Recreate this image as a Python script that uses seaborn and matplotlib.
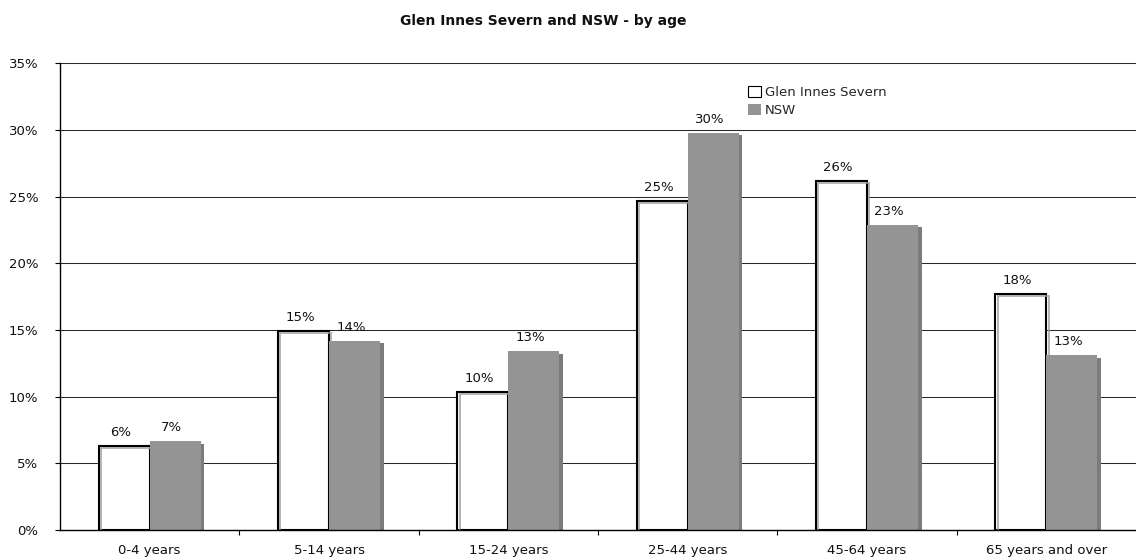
import matplotlib
matplotlib.use("Agg")
import matplotlib.pyplot as plt
import matplotlib.patches as mpatches
import matplotlib.patheffects as pe
from matplotlib.ticker import FixedLocator, FuncFormatter
import pandas as pd
import seaborn as sns

# Age groups and population share (%) for each area
age_groups = ["0-4 years", "5-14 years", "15-24 years", "25-44 years",
              "45-64 years", "65 years and over"]
glen_innes = [6.33, 14.9, 10.34, 24.66, 26.2, 17.7]
nsw = [6.68, 14.2, 13.42, 29.8, 22.9, 13.1]
series_names = ["Glen Innes Severn", "NSW"]

df = pd.DataFrame({
    "age": age_groups * 2,
    "pct": glen_innes + nsw,
    "series": [series_names[0]] * len(age_groups) + [series_names[1]] * len(age_groups),
})

sns.set_theme(style="white")
plt.rcParams["font.family"] = ["DejaVu Sans"]

W, H = 1136, 560
fig = plt.figure(figsize=(W / 100, H / 100), dpi=100)
ax = fig.add_axes([60 / W, (H - 530) / H, 1 - 60 / W, (530 - 63.3) / H])

NSW_GREY = "#949494"
sns.barplot(data=df, x="age", y="pct", hue="series", order=age_groups,
            hue_order=series_names,
            palette={series_names[0]: "white", series_names[1]: NSW_GREY},
            width=0.57, gap=0, saturation=1, legend=False, ax=ax)

gis_bars, nsw_bars = ax.containers[0], ax.containers[1]
for bar in gis_bars:
    bar.set_edgecolor("black")
    bar.set_linewidth(1.5)
    bar.set_zorder(3)
    # white bar with a thin grey outline offset down-right (3-D look)
    bar.set_path_effects([pe.Normal(),
                          pe.SimpleLineShadow(offset=(1.7, -1.5),
                                              shadow_color="#a0a0a0",
                                              alpha=1, linewidth=1.1)])
for bar in nsw_bars:
    bar.set_edgecolor("none")
    bar.set_linewidth(0)
    bar.set_zorder(3)
    bar.set_path_effects([pe.SimplePatchShadow(offset=(2.5, -2.0),
                                               shadow_rgbFace="#7c7c7c", alpha=1),
                          pe.Normal()])

# Value labels above each bar
for container, vals in ((gis_bars, glen_innes), (nsw_bars, nsw)):
    for bar, v in zip(container, vals):
        ax.annotate(f"{v:.0f}%", (bar.get_x() + bar.get_width() / 2, bar.get_height()),
                    xytext=(-2.5, 5), textcoords="offset points",
                    ha="center", va="bottom", fontsize=9.5, color="#111111",
                    zorder=5)

# Axes, ticks and grid
ax.set_ylim(0, 35)
ax.set_xlim(-0.5, len(age_groups) - 0.5)
ax.yaxis.set_major_locator(FixedLocator(range(0, 36, 5)))
ax.yaxis.set_major_formatter(FuncFormatter(lambda v, _: f"{v:.0f}%"))
ax.yaxis.grid(True, color="#2a2a2a", linewidth=0.75)
ax.set_axisbelow(True)
ax.set_xlabel("")
ax.set_ylabel("")

ax.xaxis.set_minor_locator(FixedLocator([i + 0.5 for i in range(len(age_groups) - 1)]))
ax.tick_params(axis="x", which="major", length=0, pad=10, labelsize=9.5,
               labelcolor="#111111")
ax.tick_params(axis="x", which="minor", bottom=True, length=3.5, width=0.8,
               direction="out", color="black")
ax.tick_params(axis="y", which="major", left=True, length=3.6, width=0.8,
               direction="out", color="black", pad=12, labelsize=9.5,
               labelcolor="#111111")

for side in ("top", "right"):
    ax.spines[side].set_visible(False)
for side in ("left", "bottom"):
    ax.spines[side].set_visible(True)
    ax.spines[side].set_color("black")
    ax.spines[side].set_linewidth(1.0)
ax.spines["bottom"].set_zorder(4)

# Legend
handles = [mpatches.Patch(facecolor="white", edgecolor="black", linewidth=0.8,
                          label=series_names[0]),
           mpatches.Patch(facecolor=NSW_GREY, edgecolor="none", label=series_names[1])]
fig.legend(handles=handles, loc="upper left",
           bbox_to_anchor=(741 / W, 1 - 79 / H), frameon=False, borderpad=0,
           handlelength=1.0, handleheight=1.0, handletextpad=0.3,
           labelspacing=0.35, fontsize=9.5)

fig.text(543 / W, 1 - 21 / H, "Glen Innes Severn and NSW - by age",
         ha="center", va="center", fontsize=10, fontweight="bold", color="#111111")

fig.savefig("out.png", dpi=100, facecolor="white")
